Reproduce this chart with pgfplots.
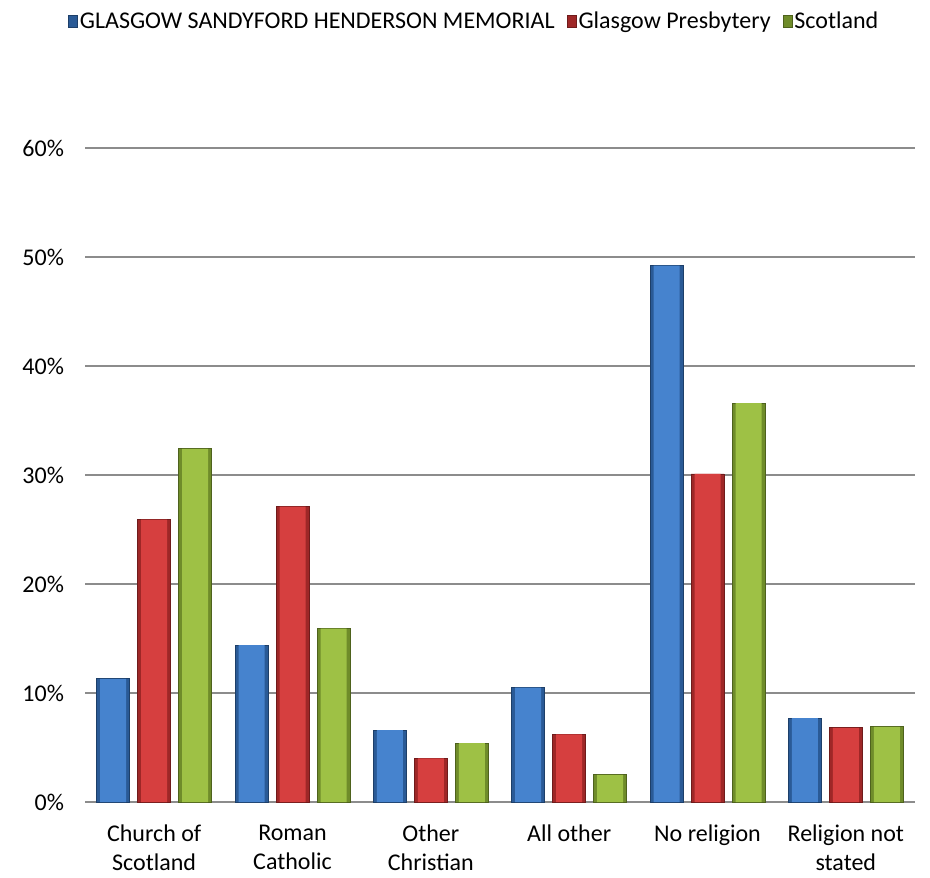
\documentclass[border=0pt]{standalone}
\usepackage{pgfplots}
\pgfplotsset{compat=1.18}
\usepackage{fontspec}
\setmainfont{Carlito}

\definecolor{bluemid}{HTML}{4683CE}
\definecolor{blueedge}{HTML}{2A5A96}
\definecolor{redmid}{HTML}{D63F3F}
\definecolor{rededge}{HTML}{9E2727}
\definecolor{greenmid}{HTML}{9EC145}
\definecolor{greenedge}{HTML}{6F8C2A}
\definecolor{gridgray}{HTML}{8C8C8C}

\begin{document}
\begin{tikzpicture}
\path[use as bounding box] (-42.5pt,-37.5pt) rectangle (422.5pt,401pt);
\begin{axis}[
    scale only axis,
    width=415pt, height=327pt,
    ybar, bar width=16.5pt,
    xmin=-0.5, xmax=5.5,
    ymin=0, ymax=60,
    xtick={0,...,5},
    xticklabels={{Church of\\Scotland},{Roman\\Catholic},{Other\\Christian},{All other},{No religion},{Religion not\\stated}},
    ytick={0,10,...,60},
    yticklabel={\pgfmathprintnumber{\tick}\%},
    /pgf/number format/assume math mode=true,
    font=\fontsize{12}{14.5}\selectfont,
    xticklabel style={align=center, yshift=-8pt},
    yticklabel style={xshift=-7pt},
    major tick length=0pt,
    ymajorgrids,
    grid style={gridgray, line width=0.6pt},
    axis line style={draw=none},
    legend columns=3,
    legend style={draw=none, fill=none, at={(rel axis cs:0.469,1.193)}, anchor=center,
        font=\fontsize{12}{14.5}\selectfont,
        /tikz/every even column/.append style={column sep=5pt},
        nodes={inner sep=1pt}},
    legend image code/.code={\path[#1] (0pt,-3pt) rectangle (4.5pt,3pt);},
]
% outer bars (dark edges)
\addplot[draw=blueedge!70!black, line width=0.4pt, fill=blueedge, bar shift=-20.5pt]
  coordinates {(0,11.3) (1,14.4) (2,6.6) (3,10.5) (4,49.2) (5,7.7)};
\addplot[draw=rededge!70!black, line width=0.4pt, fill=rededge, bar shift=0pt]
  coordinates {(0,25.9) (1,27.1) (2,4.0) (3,6.2) (4,30.1) (5,6.8)};
\addplot[draw=greenedge!70!black, line width=0.4pt, fill=greenedge, bar shift=20.5pt]
  coordinates {(0,32.4) (1,15.9) (2,5.4) (3,2.5) (4,36.6) (5,6.9)};
% inner faces, lighter
\addplot[forget plot, draw=none, fill=bluemid, bar width=13pt, bar shift=-20.5pt]
  coordinates {(0,11.3) (1,14.4) (2,6.6) (3,10.5) (4,49.2) (5,7.7)};
\addplot[forget plot, draw=none, fill=redmid, bar width=13pt, bar shift=0pt]
  coordinates {(0,25.9) (1,27.1) (2,4.0) (3,6.2) (4,30.1) (5,6.8)};
\addplot[forget plot, draw=none, fill=greenmid, bar width=13pt, bar shift=20.5pt]
  coordinates {(0,32.4) (1,15.9) (2,5.4) (3,2.5) (4,36.6) (5,6.9)};
\legend{GLASGOW SANDYFORD HENDERSON MEMORIAL, Glasgow Presbytery, Scotland}
\end{axis}
\end{tikzpicture}
\end{document}
